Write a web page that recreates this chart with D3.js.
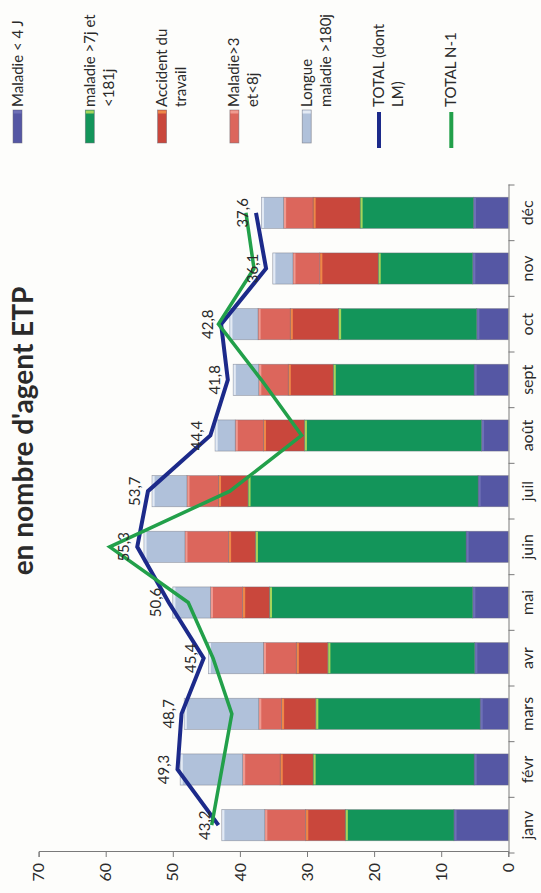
<!DOCTYPE html>
<html><head><meta charset="utf-8">
<script src="https://cdn.jsdelivr.net/npm/d3@7"></script>
<style>
html,body{margin:0;padding:0;background:#fdfdfb;}
svg{display:block;}
text{font-family:Lato,"Open Sans",sans-serif;fill:#2a2a2a;}
</style></head>
<body>
<script>
const months = ["janv","févr","mars","avr","mai","juin","juil","août","sept","oct","nov","déc"];
const maladieMoins4 = [8.1,5.1,4.2,5.0,5.3,6.3,4.5,4.0,5.1,4.7,5.3,5.2];
const maladie7a181 = [16.2,24.0,24.5,21.9,30.3,31.4,34.3,26.4,21.0,20.6,14.1,16.9];
const accidentTravail = [5.9,4.9,5.1,4.7,4.0,4.0,4.4,6.1,6.7,7.2,8.7,7.0];
const maladie3a8 = [6.1,5.6,3.4,4.9,4.8,6.5,4.7,4.2,4.4,4.8,4.0,4.4];
const longueMaladie = [6.4,9.3,11.1,8.2,5.6,6.1,5.2,3.0,3.8,4.2,3.0,3.3];
const totalDontLM = [43.2,49.3,48.7,45.4,50.6,55.3,53.7,44.4,41.8,42.8,36.1,37.6];
const totalN1 = [44.2,42.7,41.2,44.0,47.7,59.4,41.5,30.8,36.8,43.2,37.9,39.1];
const valueTicks = [0,10,20,30,40,50,60,70];
const titleText = "en nombre d'agent ETP";

const seriesKeys = ["m4","m7","at","m3","lm"];
const seriesColors = {m4:"#5557a4", m7:"#13955a", at:"#c9473c", m3:"#dc665c", lm:"#b0c1da"};
const seriesEdge = {m4:"#6e70b6", m7:"#a6d45a", at:"#ee8748", m3:"#ef9a90", lm:"#e3eaf4"};
const legendItems = [
  {type:"rect", key:"m4", lines:["Maladie < 4 J"]},
  {type:"rect", key:"m7", lines:["maladie >7j et","<181j"]},
  {type:"rect", key:"at", lines:["Accident du","travail"]},
  {type:"rect", key:"m3", lines:["Maladie>3","et<8j"]},
  {type:"rect", key:"lm", lines:["Longue","maladie >180j"]},
  {type:"line", color:"#1c2a8a", lines:["TOTAL (dont","LM)"]},
  {type:"line", color:"#22a04a", lines:["TOTAL N-1"]}
];

const table = months.map((m,i)=>({month:m, m4:maladieMoins4[i], m7:maladie7a181[i], at:accidentTravail[i], m3:maladie3a8[i], lm:longueMaladie[i]}));

const W = 541, H = 893;
const svg = d3.select("body").append("svg").attr("width",W).attr("height",H);
svg.append("rect").attr("width",W).attr("height",H).attr("fill","#fdfdfb");
// whole chart is drawn in an un-rotated frame, then turned -90deg
const g = svg.append("g").attr("transform",`translate(0,${H}) rotate(-90)`);

const x = d3.scaleBand().domain(months).range([40,708]).paddingInner(0.44).paddingOuter(0.22);
const y = d3.scaleLinear().domain([0,70]).range([508.3,38.6]);

// bars
const stacked = d3.stack().keys(seriesKeys)(table);
const layers = g.append("g").selectAll("g").data(stacked).join("g");
layers.selectAll("rect.seg").data(d=>d.map(p=>({p, key:d.key}))).join("rect")
  .attr("class","seg")
  .attr("x",d=>x(d.p.data.month))
  .attr("width",x.bandwidth())
  .attr("y",d=>y(d.p[1]))
  .attr("height",d=>y(d.p[0])-y(d.p[1]))
  .attr("fill",d=>seriesColors[d.key])
  .attr("stroke","rgba(110,110,120,0.55)").attr("stroke-width",0.7);
layers.selectAll("rect.edge").data(d=>d.map(p=>({p, key:d.key}))).join("rect")
  .attr("class","edge")
  .attr("x",d=>x(d.p.data.month)+0.5)
  .attr("width",x.bandwidth()-1)
  .attr("y",d=>y(d.p[1])+0.4)
  .attr("height",2.2)
  .attr("fill",d=>seriesEdge[d.key]);

// value axis
const ya = g.append("g").attr("transform","translate(41,0)")
  .call(d3.axisLeft(y).tickValues(valueTicks).tickSize(5).tickPadding(6).tickFormat(d3.format("d")));
ya.select(".domain").attr("stroke","#7a7a7a");
ya.selectAll(".tick line").attr("stroke","#7a7a7a");
ya.selectAll("text").attr("font-size",16).attr("fill","#2a2a2a");

// category axis
const xa = g.append("g").attr("transform","translate(0,508.5)")
  .call(d3.axisBottom(x).tickSize(0).tickPadding(13));
xa.select(".domain").attr("stroke","#7a7a7a");
xa.selectAll("text").attr("font-size",16).attr("fill","#2a2a2a");
const bounds = months.map(m=>x(m)-(x.step()-x.bandwidth())/2).concat([x(months[months.length-1])+x.bandwidth()+(x.step()-x.bandwidth())/2]);
xa.selectAll("line.bnd").data(bounds).join("line").attr("class","bnd")
  .attr("x1",d=>d).attr("x2",d=>d).attr("y1",0).attr("y2",6).attr("stroke","#7a7a7a");

// lines
const cx = i=>x(months[i])+x.bandwidth()/2;
const line = d3.line().x((d,i)=>cx(i)).y(d=>y(d));
g.append("path").datum(totalDontLM).attr("d",line).attr("fill","none")
  .attr("stroke","#1c2a8a").attr("stroke-width",4).attr("stroke-linejoin","miter");
g.append("path").datum(totalN1).attr("d",line).attr("fill","none")
  .attr("stroke","#22a04a").attr("stroke-width",3.5).attr("stroke-linejoin","miter");

// data labels
const fmt = v=>d3.format(".1f")(v).replace(".",",");
g.append("g").selectAll("text").data(totalDontLM).join("text")
  .attr("x",(d,i)=>cx(i)).attr("y",d=>y(d)-8)
  .attr("text-anchor","middle").attr("font-size",15).text(fmt);

// title
g.append("text").attr("x",462).attr("y",33).attr("text-anchor","middle")
  .attr("font-size",28).attr("font-weight","bold").attr("fill","#1e1e1e").text(titleText);

// legend
const lg = g.append("g");
legendItems.forEach((it,i)=>{
  const c = 17.5 + 72.3*i;
  if(it.type==="rect"){
    lg.append("rect").attr("x",750).attr("y",c-4.5).attr("width",33).attr("height",9)
      .attr("fill",seriesColors[it.key]).attr("stroke","rgba(110,110,120,0.7)").attr("stroke-width",0.7);
    lg.append("rect").attr("x",779.5).attr("y",c-4).attr("width",3).attr("height",8).attr("fill",seriesEdge[it.key]);
  } else {
    lg.append("line").attr("x1",745).attr("x2",781).attr("y1",c).attr("y2",c)
      .attr("stroke",it.color).attr("stroke-width",4);
  }
  it.lines.forEach((t,j)=>{
    lg.append("text").attr("x",786).attr("y",c+5+19*j).attr("font-size",15).text(t);
  });
});
</script>
</body></html>
